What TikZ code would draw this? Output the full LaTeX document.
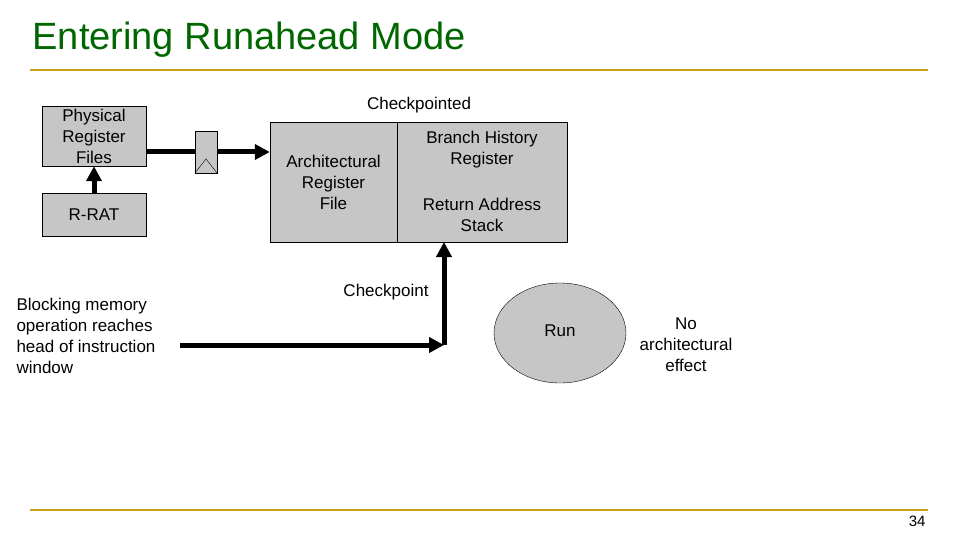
\documentclass[tikz,border=0pt]{standalone}
\usepackage{fontspec}
\setmainfont{Liberation Sans}
\usetikzlibrary{arrows.meta,shapes.geometric}
\begin{document}
\begin{tikzpicture}[x=1pt,y=-1pt,
  box/.style={draw,fill=gray!45,inner sep=0pt},
  lbl/.style={font=\fontsize{17}{21}\selectfont,align=center},
  thick arrow/.style={line width=5pt,-{Triangle[length=15pt,width=15pt]}}]
\useasboundingbox (0,0) rectangle (960,540);
\node[anchor=west,font=\fontsize{38}{42}\selectfont,text=green!40!black] (title) at (29,40) {Entering Runahead Mode};
\draw[line width=2.5pt,draw={rgb,255:red,200;green,160;blue,20}] (30,70) coordinate (l1) -- (928,70) coordinate (l2);
\draw[line width=2.5pt,draw={rgb,255:red,200;green,160;blue,20}] (30,510) coordinate (b1) -- (928,510) coordinate (b2);
\node[anchor=east,font=\fontsize{15}{17}\selectfont] (pg) at (929,521) {34};
\node[box,minimum width=104pt,minimum height=60pt,lbl] (prf) at (94,136) {Physical\\Register\\Files};
\node[box,minimum width=104pt,minimum height=43pt,lbl] (rrat) at (94,214.5) {R-RAT};
\node[box,minimum width=22pt,minimum height=42pt] (reg) at (206,152) {};
\draw (reg.south west) -- (206,159) -- (reg.south east);
\node[box,minimum width=127pt,minimum height=120pt] (arf) at (333.5,182) {};
\node[lbl] (arft) at (333.5,182) {Architectural\\Register\\File};
\node[box,minimum width=170pt,minimum height=120pt] (bhr) at (482,182) {};
\node[lbl] (bhrt) at (482,150) {Branch History\\Register};
\node[lbl] (rast) at (482,215) {Return Address\\Stack};
\node[lbl] (ckd) at (419,105) {Checkpointed};
\node[lbl] (ck) at (386,292) {Checkpoint};
\node[lbl,align=left,anchor=north west] (blk) at (13,295) {Blocking memory\\operation reaches\\head of instruction\\window};
\node[draw,fill=gray!45,ellipse,inner sep=0pt,minimum width=132pt,minimum height=100pt] (run) at (560,333) {};
\node[lbl] (runt) at (560,331) {Run};
\node[lbl] (noeff) at (686,345) {No\\architectural\\effect};
\draw[thick arrow] (rrat.north) -- (prf.south);
\draw[line width=5pt] (prf.east |- reg.west) -- (reg.west);
\draw[thick arrow] (reg.east) -- (arf.west |- reg.east);
\coordinate (jn) at (444,345);
\draw[thick arrow] (180,345) coordinate (st) -- (jn);
\draw[thick arrow] (jn) -- (444,242);
\end{tikzpicture}
\end{document}
